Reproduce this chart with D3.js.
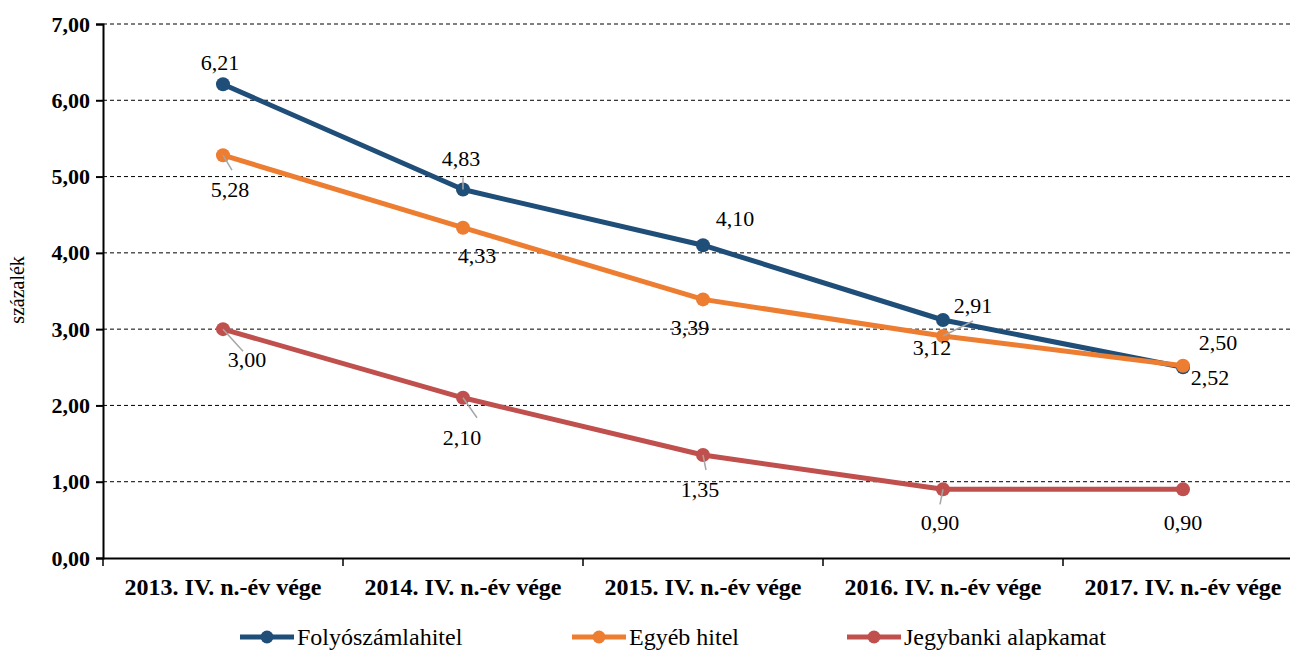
<!DOCTYPE html>
<html>
<head>
<meta charset="utf-8">
<script src="https://cdn.jsdelivr.net/npm/d3@7"></script>
<style>
  body { margin: 0; background: #fff; }
  svg { font-family: "Liberation Serif", "Times New Roman", serif; }
</style>
</head>
<body>
<div class="lineChart"></div>
<script>
// data
const categories = ["2013. IV. n.-év vége", "2014. IV. n.-év vége", "2015. IV. n.-év vége", "2016. IV. n.-év vége", "2017. IV. n.-év vége"];
const folyoszamla = [6.21, 4.83, 4.10, 3.12, 2.50];
const egyebHitel = [5.28, 4.33, 3.39, 2.91, 2.52];
const jegybanki = [3.00, 2.10, 1.35, 0.90, 0.90];
const yTicks = [0, 1, 2, 3, 4, 5, 6, 7];

// label placement (offset from point) and leader line ends, per series
const labelOffsets = [
  [[-3, -22], [-2, -31], [32, -27], [-11, 27], [35, -25]],
  [[7, 34], [14, 28], [-13, 28], [30, -31], [27, 12]],
  [[24, 30], [-1, 39], [-3, 34], [-3, 33], [0, 33]]
];
const leaders = [
  [null, [0, -12], null, null, null],
  [[9, 15], null, null, [30, -15], null],
  [[20, 22], [14, 20], [3, 15], [-3, 15], null]
];

const series = [
  { name: "Folyószámlahitel", values: folyoszamla, color: "#1F4E79" },
  { name: "Egyéb hitel", values: egyebHitel, color: "#ED7D31" },
  { name: "Jegybanki alapkamat", values: jegybanki, color: "#C0504D" }
];

const width = 1290, height = 650;
const fmt = v => d3.format(".2f")(v).replace(".", ",");

const svg = d3.select(".lineChart")
  .append("svg")
  .attr("width", width)
  .attr("height", height);

const x = d3.scaleBand().domain(categories).range([103, 1303]);
const y = d3.scaleLinear().domain([0, 7]).range([558, 24]);

// gridlines
svg.append("g")
  .selectAll("line")
  .data(yTicks.filter(d => d > 0))
  .enter()
  .append("line")
  .attr("x1", 103).attr("x2", width)
  .attr("y1", d => y(d)).attr("y2", d => y(d))
  .attr("stroke", "#000")
  .attr("stroke-width", 1)
  .attr("stroke-dasharray", "4,3");

// y axis
const yAxis = svg.append("g")
  .attr("transform", "translate(103,0)")
  .call(d3.axisLeft(y).tickValues(yTicks).tickSize(7).tickPadding(6).tickFormat(fmt));
yAxis.select(".domain").attr("stroke", "#000").attr("stroke-width", 2);
yAxis.selectAll(".tick line").attr("stroke-width", 2);
yAxis.selectAll("text")
  .attr("font-size", 22).attr("font-weight", "bold")
  .attr("font-family", "Liberation Serif").attr("fill", "#000");

// x axis
const xAxis = svg.append("g")
  .attr("transform", "translate(0,558)")
  .call(d3.axisBottom(x).tickSize(0).tickPadding(20));
xAxis.select(".domain").attr("stroke", "#000").attr("stroke-width", 2);
xAxis.selectAll("text")
  .attr("font-size", 24).attr("font-weight", "bold")
  .attr("font-family", "Liberation Serif").attr("fill", "#000");
// band boundary ticks
svg.append("g")
  .selectAll("line")
  .data(categories)
  .enter()
  .append("line")
  .attr("x1", d => x(d)).attr("x2", d => x(d))
  .attr("y1", 558).attr("y2", 566)
  .attr("stroke", "#000").attr("stroke-width", 1.5);

// y axis title
svg.append("text")
  .attr("transform", "translate(24,290) rotate(-90)")
  .attr("text-anchor", "middle")
  .attr("font-size", 20)
  .text("százalék");

const cx = i => x(categories[i]) + x.bandwidth() / 2;

const line = d3.line()
  .x((d, i) => cx(i))
  .y(d => y(d));

series.forEach((s, si) => {
  svg.append("path")
    .datum(s.values)
    .attr("fill", "none")
    .attr("stroke", s.color)
    .attr("stroke-width", 5)
    .attr("stroke-linejoin", "round")
    .attr("d", line);

  svg.append("g")
    .selectAll("circle")
    .data(s.values)
    .enter()
    .append("circle")
    .attr("cx", (d, i) => cx(i))
    .attr("cy", d => y(d))
    .attr("r", 7)
    .attr("fill", s.color);
});

// leader lines and data labels on top
series.forEach((s, si) => {
  s.values.forEach((v, i) => {
    const px = cx(i), py = y(v);
    const l = leaders[si][i];
    if (l) {
      svg.append("line")
        .attr("x1", px).attr("y1", py)
        .attr("x2", px + l[0]).attr("y2", py + l[1])
        .attr("stroke", "#A6A6A6").attr("stroke-width", 1.5);
    }
    const o = labelOffsets[si][i];
    svg.append("text")
      .attr("x", px + o[0])
      .attr("y", py + o[1])
      .attr("dy", "0.35em")
      .attr("text-anchor", "middle")
      .attr("font-size", 22)
      .attr("fill", "#000")
      .text(fmt(v));
  });
});

// legend
const legendPos = [240, 572, 847];
series.forEach((s, si) => {
  const lx = legendPos[si], ly = 637;
  svg.append("line")
    .attr("x1", lx).attr("x2", lx + 54)
    .attr("y1", ly).attr("y2", ly)
    .attr("stroke", s.color).attr("stroke-width", 5);
  svg.append("circle")
    .attr("cx", lx + 27).attr("cy", ly).attr("r", 6.5)
    .attr("fill", s.color);
  svg.append("text")
    .attr("x", lx + 57).attr("y", ly)
    .attr("dy", "0.35em")
    .attr("font-size", 24)
    .text(s.name);
});
</script>
</body>
</html>
